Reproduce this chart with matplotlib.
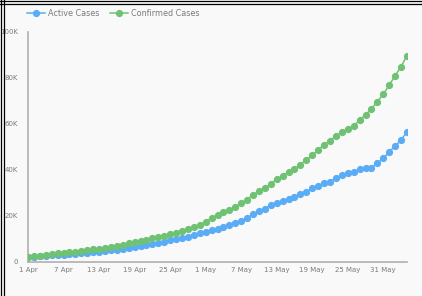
import numpy as np
import matplotlib
matplotlib.use("Agg")
import matplotlib.pyplot as plt
from matplotlib.lines import Line2D
from matplotlib.ticker import FuncFormatter

# values in thousands, one per day from 1 Apr to 4 Jun
active = [2.0, 2.1, 2.3, 2.5, 2.7, 2.9, 3.1, 3.3, 3.5, 3.7,
          3.9, 4.1, 4.4, 4.7, 5.0, 5.3, 5.6, 6.0, 6.6, 6.9,
          7.3, 7.7, 8.1, 8.6, 9.3, 9.8, 10.3, 10.9, 11.6, 12.3,
          13.0, 13.6, 14.4, 15.3, 16.1, 16.8, 17.8, 19.0, 20.7, 21.9,
          22.9, 24.8, 25.5, 26.3, 27.3, 28.3, 29.4, 30.4, 31.9, 33.1,
          34.1, 34.8, 36.2, 37.7, 38.4, 39.1, 40.2, 40.6, 40.9, 42.8,
          44.9, 47.8, 50.3, 52.9, 56.5]
confirmed = [2.19, 2.33, 2.62, 2.91, 3.2, 3.64, 3.78, 4.07, 4.36, 4.65,
             4.94, 5.38, 5.67, 5.96, 6.54, 6.97, 7.41, 7.99, 8.42, 9.0,
             9.45, 10.17, 10.75, 11.33, 12.06, 12.64, 13.36, 14.1, 14.96, 15.9,
             17.4, 19.0, 20.4, 21.5, 22.6, 23.8, 25.5, 27.0, 29.1, 30.6,
             32.0, 33.9, 35.8, 37.4, 38.9, 40.3, 42.2, 44.2, 46.2, 48.6,
             50.9, 52.6, 54.7, 56.4, 57.8, 59.1, 61.5, 63.9, 66.4, 69.6,
             72.8, 76.8, 80.9, 84.8, 89.6]
tick_labels = ["1 Apr", "7 Apr", "13 Apr", "19 Apr", "25 Apr", "1 May",
               "7 May", "13 May", "19 May", "25 May", "31 May"]
y_ticks = [0, 20000, 40000, 60000, 80000, 100000]

days = np.arange(len(active))
bg = "#f9f9f9"
blue = "#5aacf5"
green = "#6fc273"
grey = "#7a7a7a"

fig = plt.figure(figsize=(4.22, 2.96), dpi=100, facecolor=bg)
ax = fig.add_axes([28/422, 1-261.7/296, 379/422, 230/296], facecolor=bg)

ax.plot(days, np.array(active)*1000, color=blue, lw=1.1, marker="o",
        ms=4.2, mec=blue, label="Active Cases", zorder=3)
ax.plot(days, np.array(confirmed)*1000, color=green, lw=1.1, marker="o",
        ms=4.2, mec=green, label="Confirmed Cases", zorder=4)

ax.set_xlim(0, 64)
ax.set_ylim(0, 100000)
ax.set_xticks(days[::6][:len(tick_labels)])
ax.set_xticklabels(tick_labels)
ax.set_yticks(y_ticks)
ax.yaxis.set_major_formatter(FuncFormatter(lambda v, p: "0" if v == 0 else "%dK" % (v/1000)))
ax.tick_params(length=0, labelsize=5, colors=grey)
ax.tick_params(axis="y", pad=7)
ax.tick_params(axis="x", pad=4)
for s in ["top", "right"]:
    ax.spines[s].set_visible(False)
for s in ["left", "bottom"]:
    ax.spines[s].set_color("#b0b0b0")
    ax.spines[s].set_linewidth(1.2)
for lbl in ax.get_xticklabels() + ax.get_yticklabels():
    lbl.set_color(grey)

fig.legend(loc="upper left", bbox_to_anchor=(27/422, 1-8.5/296), ncol=2,
           frameon=False, fontsize=5.8, handlelength=2.2, columnspacing=1.3,
           handletextpad=0.4, borderpad=0, borderaxespad=0, labelcolor=grey)

# screenshot border on the left and top
for x in [1, 3.5]:
    fig.add_artist(Line2D([x/422, x/422], [0, 1], color="black", lw=0.9, transform=fig.transFigure))
for y in [1, 3.5]:
    fig.add_artist(Line2D([0, 1], [1-y/296, 1-y/296], color="black", lw=0.9, transform=fig.transFigure))

fig.savefig("out.png", dpi=100, facecolor=bg)
